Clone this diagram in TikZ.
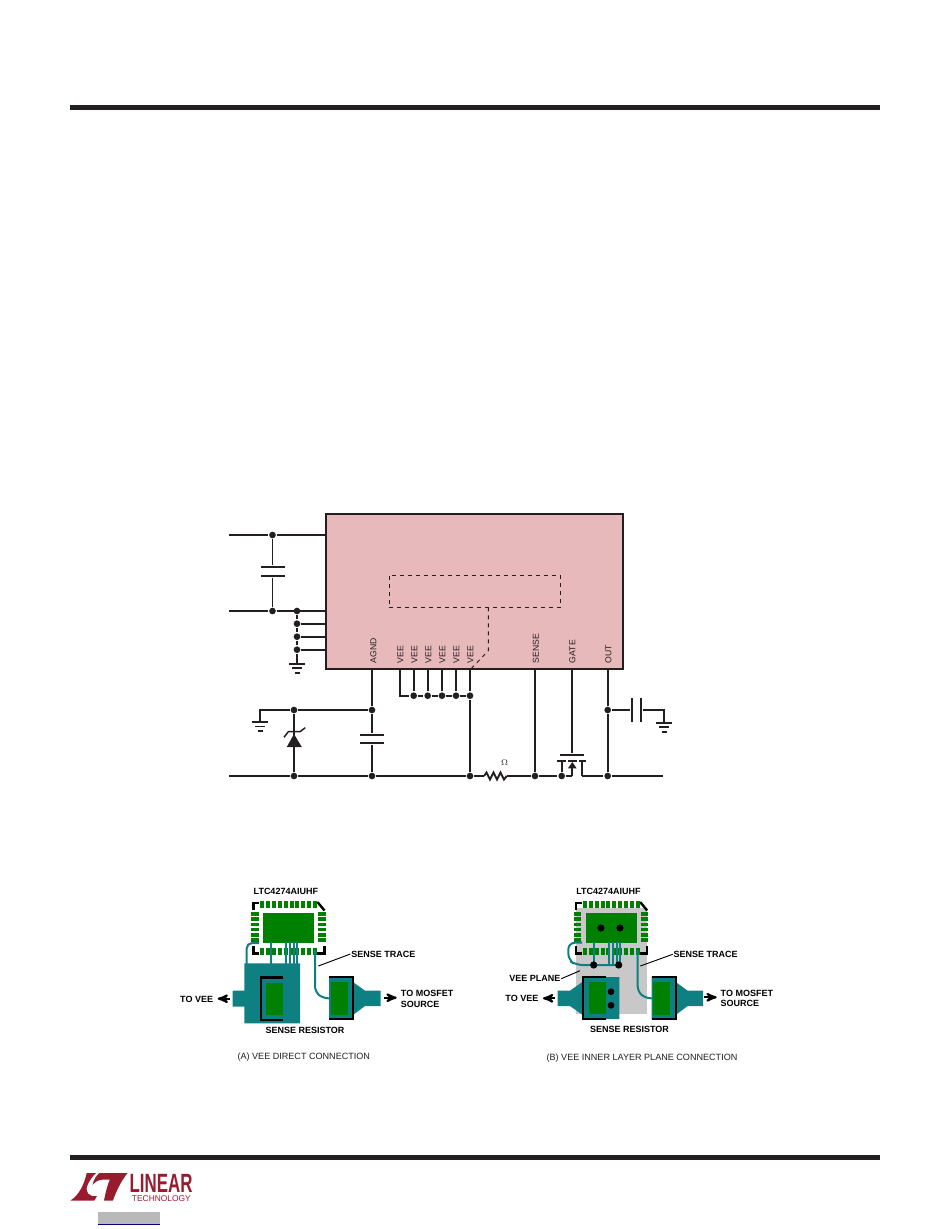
\documentclass[tikz,border=0pt]{standalone}
\usepackage{fontspec}
\setmainfont{Liberation Sans}
\usetikzlibrary{arrows}
\definecolor{icpink}{RGB}{231,185,187}
\definecolor{wire}{RGB}{35,31,32}
\definecolor{padgreen}{RGB}{0,128,0}
\definecolor{trace}{RGB}{14,128,130}
\definecolor{plane}{RGB}{200,200,200}
\definecolor{ltred}{RGB}{152,27,46}
\begin{document}
\begin{tikzpicture}[x=0.75pt,y=-0.75pt,>=stealth',line width=1.45pt,draw=wire,
    gnd/.pic={
      \coordinate (-top) at (0,0);
      \draw (-8,0) -- (8,0) (-5,4.5) -- (5,4.5) (-2.5,9) -- (2.5,9);
    }]
    \tikzstyle{dot}=[circle,fill=wire,draw=none,inner sep=0pt,minimum size=5pt]
    \tikzstyle{plate}=[rectangle,fill=wire,draw=none,inner sep=0pt,minimum width=18pt,minimum height=1.5pt]
    \tikzstyle{vplate}=[plate,rotate=90]
    \tikzstyle{pin}=[rotate=90,anchor=west,inner sep=0pt,text=wire,font=\fontsize{6.5}{8}\selectfont]
    \tikzstyle{tag}=[inner sep=0pt,text=black,align=left,font=\fontsize{6.75}{8}\selectfont\bfseries]
    \tikzstyle{caption}=[inner sep=0pt,text=wire,font=\fontsize{6.8}{8}\selectfont]
    \tikzstyle{track}=[draw=trace,line width=1.5pt]
    \tikzstyle{leader}=[draw=black,line width=.7pt]
    \tikzstyle{edge}=[draw=black,line width=1.8pt]
    \tikzstyle{flow}=[->,draw=black,line width=1.6pt]

    \useasboundingbox (0,0) rectangle (950,1229);

    \node[fill=wire,inner sep=0pt,minimum width=607.5pt,minimum height=3.6pt] (toprule) at (475,107.5) {};
    \node[fill=wire,inner sep=0pt,minimum width=607.5pt,minimum height=3.6pt] (botrule) at (475,1157.5) {};

    \node[draw,fill=icpink,inner sep=0pt,minimum width=222.75pt,minimum height=116.25pt] (ic) at (474.5,591.5) {};
    \node[draw,dashed,line width=.7pt,inner sep=0pt,minimum width=128.6pt,minimum height=24pt] (mon) at (474.7,591.3) {};
    \coordinate (monk) at (488.3,650.7);

    \node[pin] (agnd) at (373.5,664) {AGND};
    \foreach \n/\px in {1/400.5,2/414.5,3/428.5,4/442.5,5/456.5,6/470.5}
      \node[pin] (vee\n) at (\px,664) {VEE};
    \node[pin] (sense) at (536,664) {SENSE};
    \node[pin] (gate) at (572.5,664) {GATE};
    \node[pin] (out) at (608.5,664) {OUT};

    \coordinate (in1) at (229,535);
    \coordinate (in2) at (229,611);
    \node[dot] (c1top) at (272.5,535) {};
    \node[dot] (c1bot) at (272.5,611) {};
    \node[plate] (c1a) at (272.5,566.7) {};
    \node[plate] (c1b) at (272.5,575.7) {};
    \draw (in1) -- (c1top) -- (c1top -| ic.west);
    \draw (in2) -- (c1bot) -- (c1bot -| ic.west);
    \draw (c1top) -- (c1a) (c1b) -- (c1bot);
    \node[dot] (d1) at (297,611) {};
    \node[dot] (d2) at (297,623.7) {};
    \node[dot] (d3) at (297,636.7) {};
    \node[dot] (d4) at (297,649.7) {};
    \pic (g1) at (297,663.7) {gnd};
    \draw (d1) -- (d2) -- (d3) -- (d4) -- (g1-top);
    \draw (d2) -- (d2 -| ic.west) (d3) -- (d3 -| ic.west) (d4) -- (d4 -| ic.west);

    \coordinate (in3) at (229,776);
    \coordinate (rail) at (663,776);
    \node[dot] (zt) at (294,710) {};
    \node[dot] (zb) at (294,776) {};
    \node[dot] (at) at (372,710) {};
    \node[dot] (ab) at (372,776) {};
    \node[dot] (vb) at (470,776) {};
    \node[dot] (sb) at (535,776) {};
    \node[dot] (qs) at (561.7,776) {};
    \node[dot] (ob) at (607.7,776) {};
    \coordinate (rl) at (484,776);
    \coordinate (rr) at (506.7,776);
    \coordinate (qm) at (572.3,776);
    \coordinate (qd) at (581.7,776);
    \node[plate] (c2a) at (372,734.7) {};
    \node[plate] (c2b) at (372,742.7) {};
    \pic (g2) at (260,722) {gnd};
    \draw (g2-top) |- (zt) -- (at);
    \draw (zt) -- (zb);
    \fill[wire] (294,734) -- (286.8,747) -- (301.8,747) -- cycle;
    \draw[line width=1.1pt] (284,737.3) -- (288.3,731.7) -- (300,731.7) -- (305.3,727.7);
    \draw (at |- ic.south) -- (at) -- (c2a) (c2b) -- (ab);
    \draw (in3) -- (zb) -- (ab) -- (vb) -- (rl);
    \draw (rl) -- (486.5,772.5) -- (490,779.5) -- (493.5,772.5) -- (497,779.5) -- (500.5,772.5) -- (504,779.5) -- (rr);
    \draw (rr) -- (sb) -- (qs) -- (qm) (qd) -- (ob) -- (rail);
    \node[inner sep=0pt,text=wire,font=\fontsize{6.5}{8}\selectfont] (rval) at (504.7,762.7) {$\Omega$};

    \node[dot] (b2) at (413.7,695.7) {};
    \node[dot] (b3) at (427.7,695.7) {};
    \node[dot] (b4) at (442,695.7) {};
    \node[dot] (b5) at (456,695.7) {};
    \node[dot] (b6) at (470,695.7) {};
    \draw (399.7,669) |- (b2) -- (b3) -- (b4) -- (b5) -- (b6);
    \foreach \n in {2,3,4,5,6}
      \draw (b\n |- ic.south) -- (b\n);
    \draw (b6) -- (vb);
    \draw[dashed,line width=.7pt] (488.3,607.3) -- (monk) -- (b6 |- ic.south);

    \draw (sb |- ic.south) -- (sb);
    \node[plate] (qg) at (571.7,754.5) {};
    \draw (qg |- ic.south) -- (qg);
    \draw (557.3,760.7) -- (565.7,760.7) (568.3,760.7) -- (576.7,760.7) (579,760.7) -- (586,760.7);
    \draw (561.7,760.7) -- (qs) (581.7,760.7) -- (qd);
    \draw (qm) -- (572.3,766);
    \fill[wire] (572.3,762) -- (568,768.3) -- (576.6,768.3) -- cycle;

    \node[dot] (ot) at (607.7,710) {};
    \draw (ot |- ic.south) -- (ot) -- (ob);
    \node[vplate] (c3a) at (631.7,710) {};
    \node[vplate] (c3b) at (641,710) {};
    \pic (g3) at (664,722.7) {gnd};
    \draw (ot) -- (c3a) (c3b) -| (g3-top);

    \fill[plane] (576,908) rectangle (646.5,1013.5);

    \foreach \dx in {0,322.7} {
      \begin{scope}[shift={(\dx,0)}]
        \draw[edge] (259,902.7) -- (253.3,902.7) -- (253.3,910);
        \draw[edge] (316,902.7) -- (318,902.7) -- (324.5,910.5);
        \draw[edge] (259,953.3) -- (253.3,953.3) -- (253.3,946);
        \draw[edge] (316,953.3) -- (324.5,953.3) -- (324.5,946);
        \foreach \k in {0,...,9} {
          \fill[padgreen] ({260.3+5.85*\k},900.7) rectangle +(4,6.8);
          \fill[padgreen] ({260.3+5.85*\k},948.3) rectangle +(4,7);
        }
        \foreach \py in {912.2,917.4,922.7,927.7,933,938.3} {
          \fill[padgreen] (251.2,\py) rectangle +(7.4,3.6);
          \fill[padgreen] (318.2,\py) rectangle +(7.4,3.6);
        }
        \fill[padgreen] (263.3,912.5) rectangle (314.2,942.5);
        \draw[track,rounded corners=4pt] (315,950) -- (315,991.7) -- (323,998.3) -- (330,998.3);
        \fill[trace] (329,977) rectangle (353,1019) (353,982) -- (365,990.7) -- (380.5,990.7) -- (380.5,1006) -- (365,1006) -- (353,1015) -- cycle;
        \fill[padgreen] (330.5,981.5) rectangle (347.5,1014.5);
        \draw[edge] (329,977) -- (353,977) -- (353,1019) -- (329,1019);
      \end{scope}
    }

    \draw[track] (271,942) -- (271,965) (286.3,942) -- (286.3,965) (290,942) -- (290,965) (293.7,942) -- (293.7,965) (297.2,942) -- (297.2,965);
    \draw[track,rounded corners=4pt] (259,943) -- (246.7,943) -- (246.7,965);
    \fill[trace] (244.3,963.3) rectangle (300,1023.3) (232.7,990.7) rectangle (244.3,1006.7);
    \fill[padgreen] (265.7,982.7) rectangle (282.5,1015);
    \draw[edge] (283.3,977.3) -- (260.7,977.3) -- (260.7,1020) -- (283.3,1020);

    \draw[track] (593.7,942) -- (593.7,965) (609.3,942) -- (609.3,965) (613.2,942) -- (613.2,965) (616.8,942) -- (616.8,965) (620,942) -- (620,965);
    \draw[track,rounded corners=5pt] (582,942.7) -- (568.3,942.7) -- (568.3,960) -- (576,965) -- (618.7,965);
    \fill[trace] (557.7,990.7) -- (570,990.7) -- (582.7,981.7) -- (582.7,977) -- (619.3,977) -- (619.3,1019) -- (582.7,1019) -- (582.7,1015) -- (570,1006) -- (557.7,1006) -- cycle;
    \fill[padgreen] (589.3,981.7) rectangle (606,1014);
    \draw[edge] (606,977) -- (582.7,977) -- (582.7,1019) -- (606,1019);
    \fill[black] (601,928) circle (3.6) (620,928) circle (3.6) (593.7,965) circle (3.6) (618.7,965) circle (3.6) (611,991.7) circle (3.4) (611,1005.3) circle (3.4);

    \node[tag,anchor=west] (chipa) at (252.7,891.7) {LTC4274AIUHF};
    \node[tag,anchor=west] (traca) at (350.3,954) {SENSE TRACE};
    \coordinate (traceb) at (318.3,966);
    \draw[leader] (traca.west) -- (traceb);
    \node[tag,anchor=east] (veea) at (214,999.3) {TO VEE};
    \coordinate (veeat) at (230,998.7);
    \coordinate (veeah) at (217.7,998.7);
    \draw[flow] (veeat) -- (veeah);
    \node[tag,anchor=west] (mosa) at (400,998.7) {TO MOSFET\\SOURCE};
    \coordinate (mosat) at (384,997.7);
    \coordinate (mosah) at (396.7,997.7);
    \draw[flow] (mosat) -- (mosah);
    \node[tag] (resa) at (305,1030) {SENSE RESISTOR};
    \node[caption] (capa) at (303.8,1057) {(A) VEE DIRECT CONNECTION};

    \node[tag,anchor=west] (chipb) at (575.3,891.7) {LTC4274AIUHF};
    \node[tag,anchor=west] (tracb) at (672.7,954.3) {SENSE TRACE};
    \coordinate (tracec) at (640.3,966);
    \draw[leader] (tracb.west) -- (tracec);
    \node[tag,anchor=east] (planeb) at (561.3,978.7) {VEE PLANE};
    \coordinate (planec) at (580,970.7);
    \draw[leader] (planeb.east) -- (planec);
    \node[tag,anchor=east] (veeb) at (539.3,998.7) {TO VEE};
    \coordinate (veebt) at (555,998.3);
    \coordinate (veebh) at (543,998.3);
    \draw[flow] (veebt) -- (veebh);
    \node[tag,anchor=west] (mosb) at (719.7,998.5) {TO MOSFET\\SOURCE};
    \coordinate (mosbt) at (704,997.3);
    \coordinate (mosbh) at (716.7,997.3);
    \draw[flow] (mosbt) -- (mosbh);
    \node[tag] (resb) at (629.5,1029.3) {SENSE RESISTOR};
    \node[caption] (capb) at (642,1057.7) {(B) VEE INNER LAYER PLANE CONNECTION};

    \fill[ltred] (70.5,1200.5) .. controls (79,1195) and (84,1185) .. (86.7,1173) -- (96,1173)
      .. controls (89,1180) and (84,1189) .. (88,1193.5) .. controls (90,1196) and (93,1196.5) .. (97,1196)
      -- (94.3,1200.5) -- cycle;
    \fill[ltred] (99.3,1173) -- (127.5,1173) .. controls (122,1180) and (116.5,1190) .. (113,1200.5)
      -- (104,1200.5) .. controls (105.5,1193) and (107,1186) .. (109.8,1179.7)
      -- (102,1179.7) .. controls (98,1180) and (95,1182) .. (92.5,1185) .. controls (93.5,1180) and (96,1176) .. (99.3,1173) -- cycle;
    \node[inner sep=0pt,anchor=west,text=ltred,xscale=.64,font=\fontsize{19.8}{20}\selectfont\bfseries] (linear) at (129,1183) {LINEAR};
    \node[inner sep=0pt,anchor=west,text=ltred,font=\fontsize{6.3}{7}\selectfont] (techno) at (131,1198.5) {TECHNOLOGY};
    \fill[gray!55] (97.7,1212) rectangle (160,1224);
    \fill[blue!50!black] (97.7,1224.3) rectangle (160,1225.2);
\end{tikzpicture}
\end{document}
